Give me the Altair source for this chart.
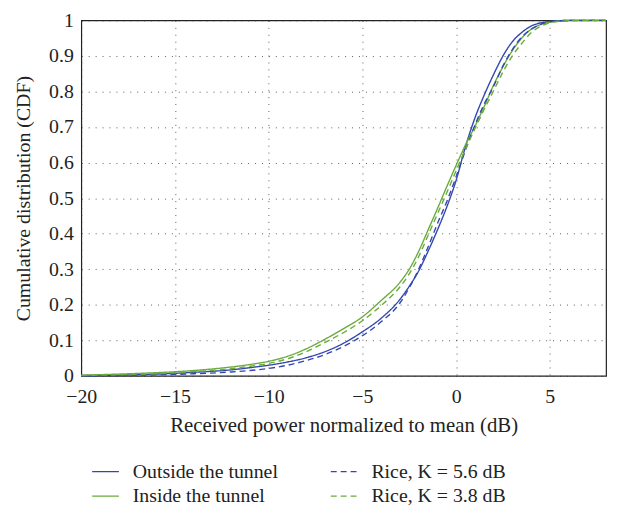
import altair as alt
import pandas as pd

x_db = [-20, -18, -16, -14, -12, -11, -10, -9, -8, -7, -6, -5, -4, -3, -2.5, -2, -1.5, -1, -0.5,
        0, 0.5, 1, 1.5, 2, 2.5, 3, 3.5, 4, 4.5, 5, 5.5, 6, 7, 8]
outside = [0.001, 0.002, 0.005, 0.010, 0.017, 0.023, 0.030, 0.039, 0.051, 0.068, 0.092, 0.124,
           0.162, 0.215, 0.252, 0.295, 0.350, 0.410, 0.475, 0.550, 0.645, 0.725, 0.790, 0.848,
           0.900, 0.940, 0.966, 0.984, 0.993, 0.997, 0.999, 1.0, 1.0, 1.0]
rice56 = [0.000, 0.001, 0.003, 0.006, 0.011, 0.015, 0.021, 0.030, 0.043, 0.060, 0.083, 0.113,
          0.152, 0.205, 0.248, 0.300, 0.362, 0.428, 0.490, 0.560, 0.635, 0.705, 0.765, 0.815,
          0.872, 0.918, 0.953, 0.975, 0.989, 0.996, 0.999, 1.0, 1.0, 1.0]
inside = [0.002, 0.005, 0.009, 0.015, 0.025, 0.032, 0.041, 0.055, 0.076, 0.103, 0.133, 0.166,
          0.212, 0.263, 0.300, 0.350, 0.410, 0.470, 0.532, 0.592, 0.650, 0.702, 0.758, 0.818,
          0.870, 0.915, 0.950, 0.975, 0.988, 0.995, 0.998, 1.0, 1.0, 1.0]
rice38 = [0.001, 0.003, 0.006, 0.012, 0.020, 0.027, 0.035, 0.048, 0.068, 0.094, 0.122, 0.155,
          0.198, 0.250, 0.287, 0.335, 0.395, 0.455, 0.515, 0.577, 0.638, 0.695, 0.750, 0.802,
          0.855, 0.900, 0.935, 0.965, 0.983, 0.993, 0.997, 0.999, 1.0, 1.0]

series_names = ["Outside the tunnel", "Inside the tunnel", "Rice, K = 5.6 dB", "Rice, K = 3.8 dB"]
series_values = [outside, inside, rice56, rice38]
series_colors = ["#3347b0", "#6aab3c", "#3347b0", "#6aab3c"]
series_dash = [[1, 0], [1, 0], [6, 4], [6, 4]]
x_ticks = [-20, -15, -10, -5, 0, 5]
y_ticks = [0, 0.1, 0.2, 0.3, 0.4, 0.5, 0.6, 0.7, 0.8, 0.9, 1.0]

rows = []
for name, vals in zip(series_names, series_values):
    for xv, yv in zip(x_db, vals):
        rows.append({"x": xv, "y": yv, "series": name})
df = pd.DataFrame(rows)

FONT = "Liberation Serif"
FS = 20

chart = alt.Chart(df).mark_line(strokeWidth=1.4, interpolate="monotone").encode(
    x=alt.X("x:Q",
            scale=alt.Scale(domain=[-20, 8], nice=False, zero=False),
            axis=alt.Axis(values=x_ticks, title="Received power normalized to mean (dB)",
                          titlePadding=8, labelPadding=11, labelFlush=False, titleFontSize=21)),
    y=alt.Y("y:Q",
            scale=alt.Scale(domain=[0, 1], nice=False),
            axis=alt.Axis(values=y_ticks, format=".1~f", title="Cumulative distribution (CDF)",
                          titlePadding=15, labelPadding=8, labelFlush=False)),
    color=alt.Color("series:N",
                    scale=alt.Scale(domain=series_names, range=series_colors),
                    legend=alt.Legend(title=None, orient="none", legendX=10, legendY=441,
                                      columns=2, columnPadding=50, rowPadding=0,
                                      symbolType="stroke", symbolSize=729,
                                      symbolStrokeWidth=1.4, labelFontSize=FS,
                                      labelFont=FONT, labelColor="#222222", labelOffset=13)),
    strokeDash=alt.StrokeDash("series:N",
                              scale=alt.Scale(domain=series_names, range=series_dash),
                              legend=None),
).properties(
    width=530, height=359,
    autosize=alt.AutoSizeParams(type="none"),
    padding={"left": 74, "top": 10, "right": 5, "bottom": 140},
).configure_view(
    stroke="#222222", strokeWidth=1.2
).configure_axis(
    grid=True, gridColor="#333333", gridDash=[1, 6], gridWidth=1, gridOpacity=0.8,
    domain=False, ticks=False,
    labelFont=FONT, labelFontSize=FS, labelColor="#222222",
    titleFont=FONT, titleFontSize=FS, titleFontWeight="normal", titleColor="#222222",
)

chart.save("out.html", embed_options={"renderer": "svg", "actions": False})
